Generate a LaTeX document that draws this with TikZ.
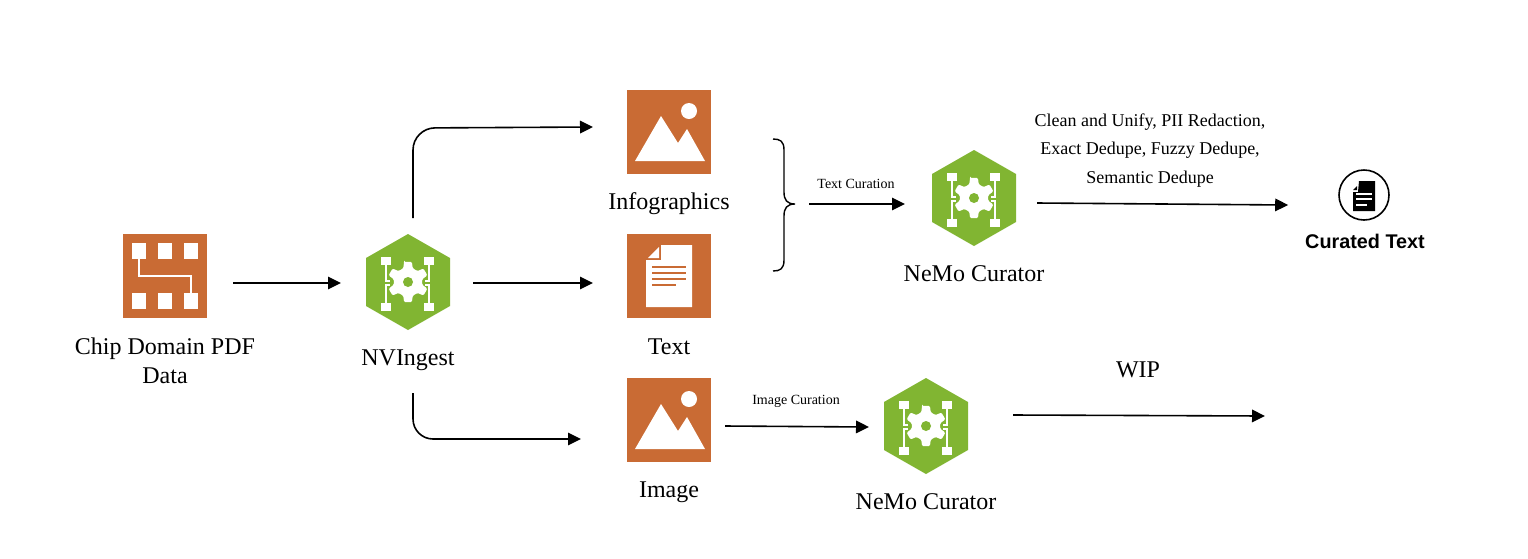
\documentclass[tikz,border=0pt]{standalone}
\usepackage{fontspec}
\setmainfont{Liberation Serif}
\newfontfamily\labelsans{Liberation Sans}
\usetikzlibrary{arrows.meta}
\definecolor{rust}{RGB}{201,107,52}
\definecolor{leaf}{RGB}{129,181,50}
\tikzset{
  flow/.style={draw=black,line width=1.6pt,-{Triangle[length=13pt,width=12.5pt]}},
  iconbox/.style={fill=rust,draw=none,minimum width=84pt,minimum height=84pt,inner sep=0pt,outer sep=0pt},
  hexbox/.style={draw=none,minimum width=84pt,minimum height=96pt,inner sep=0pt,outer sep=0pt},
  lab/.style={font=\fontsize{24}{26}\selectfont,anchor=base,inner sep=0pt},
  midlab/.style={font=\fontsize{18}{20}\selectfont,anchor=base,inner sep=0pt},
  smalllab/.style={font=\fontsize{14}{16}\selectfont,anchor=base,inner sep=0pt},
}
% hexagon icon: name, x, y (centre)
\newcommand{\hexicon}[3]{%
  \node[hexbox] (#1) at (#2,#3) {};
  \begin{scope}[shift={(#2,#3)}]
    \fill[leaf] (0,-48) -- (42,-24) -- (42,24) -- (0,48) -- (-42,24) -- (-42,-24) -- cycle;
    \fill[white,rounded corners=1.2pt] (-101:20.5)
      \foreach \a in {-90,-30,30,90,150,210}{
        -- (\a-11:20.5) -- (\a+11:20.5) -- (\a+19:14.5) -- (\a+41:14.5)
      } -- cycle;
    \fill[leaf] (0,0) circle (5);
    \fill[white] (-27,-25) rectangle (-17,-17.5);
    \fill[white] (16,-25) rectangle (26,-17.5);
    \fill[white] (-27,21) rectangle (-17,29);
    \fill[white] (16,21) rectangle (26,29);
    \draw[white,line width=1.2pt] (-22,-18) -- (-22,-1) -- (-18,-1);
    \draw[white,line width=1.2pt] (-22,22) -- (-22,3) -- (-18,3);
    \draw[white,line width=1.2pt] (21,-18) -- (21,-1) -- (17,-1);
    \draw[white,line width=1.2pt] (21,22) -- (21,3) -- (17,3);
  \end{scope}}
% picture icon: name, x, y (centre)
\newcommand{\picicon}[3]{%
  \node[iconbox] (#1) at (#2,#3) {};
  \begin{scope}[shift={(#2,#3)}]
    \fill[white] (-34,29) -- (-8,-16) -- (9,11) -- (18,-3) -- (36,29) -- cycle;
    \fill[white] (20,-21) circle (8);
  \end{scope}}
\begin{document}
\begin{tikzpicture}[x=1pt,y=-1pt]
\useasboundingbox (0,0) rectangle (1528,558);
\fill[white] (0,0) rectangle (1528,558);

% chip icon
\node[iconbox] (chip) at (165,276) {};
\foreach \x in {132,158,184}{
  \fill[white] (\x,243) rectangle ++(14,16);
  \fill[white] (\x,293) rectangle ++(14,16);
}
\draw[white,line width=2pt] (139,259) -- (139,276) -- (191,276) -- (191,293);
\node[lab] (chiplab) at (165,354) {Chip Domain PDF};
\node[lab] (chiplabb) at (165,383) {Data};

% hexagons
\hexicon{nvingest}{408}{282}
\node[lab] (nvlab) at (408,365) {NVIngest};
\hexicon{curatorA}{974}{198}
\node[lab] (calab) at (974,281.5) {NeMo Curator};
\hexicon{curatorB}{926}{426}
\node[lab] (cblab) at (926,509.5) {NeMo Curator};

% infographics and image
\picicon{info}{669}{132}
\node[lab] (infolab) at (669,209) {Infographics};
\picicon{image}{669}{420}
\node[lab] (imagelab) at (669,497) {Image};

% text icon
\node[iconbox] (text) at (669,276) {};
\fill[white] (660,245) -- (692,245) -- (692,307) -- (646,307) -- (646,259) -- cycle;
\draw[rust,line width=1.6pt] (660,245) -- (660,259) -- (646,259) -- cycle;
\fill[white] (648,258) -- (659,258) -- (659,247) -- cycle;
\foreach \y/\e in {265.5/686,271.5/686,277.5/686,283.5/676}{
  \fill[rust] (652,\y) rectangle (\e,\y+2.4);
}
\node[lab] (textlab) at (669,354) {Text};

% curated text icon
\node[draw=black,line width=1.6pt,circle,minimum size=50pt,inner sep=0pt] (curated) at (1364,195) {};
\fill[black] (1359,181) -- (1375,181) -- (1375,211) -- (1353,211) -- (1353,192) -- (1358,192) -- cycle;
\fill[black] (1353,190) -- (1357,190) -- (1357,186) -- cycle;
\foreach \y/\e in {193/1372,198/1372,204/1367}{
  \fill[white] (1356,\y) rectangle (\e,\y+2.4);
}
\node[anchor=base,inner sep=0pt,font=\labelsans\bfseries\fontsize{19.8}{22}\selectfont] (curlab) at (1365,248.5) {Curated Text};

% brace
\coordinate (braceTip) at (795,204);
\draw[black,line width=1.4pt] (773,139) .. controls (780,139) and (784,141) .. (784,150)
  -- (784,192) .. controls (784,200) and (787,204) .. (braceTip)
  .. controls (787,204) and (784,208) .. (784,216)
  -- (784,260) .. controls (784,269) and (780,271) .. (773,271);

% connectors
\draw[flow] ([xshift=26pt,yshift=-7pt]chip.east) -- ([xshift=-25pt,yshift=-1pt]nvingest.west);
\draw[flow,rounded corners=22pt] ([xshift=5pt,yshift=16pt]nvingest.north) -- (413,128) -- ([xshift=-34pt,yshift=5pt]info.west);
\draw[flow] ([xshift=23pt,yshift=-1pt]nvingest.east) -- ([xshift=-34pt,yshift=-7pt]text.west);
\draw[flow,rounded corners=20pt] ([xshift=5pt,yshift=-63pt]nvingest.south) -- (413,439) -- ([xshift=-46pt,yshift=-19pt]image.west);
\draw[flow] ([xshift=14pt]braceTip) -- ([xshift=-27pt,yshift=-6pt]curatorA.west);
\draw[flow] ([xshift=21pt,yshift=-5pt]curatorA.east) -- ([xshift=-50pt,yshift=-10pt]curated.west);
\draw[flow] ([xshift=14pt,yshift=-6pt]image.east) -- ([xshift=-15pt,yshift=-1pt]curatorB.west);
\coordinate (wipEnd) at (1265,416);
\draw[flow] ([xshift=45pt,yshift=11pt]curatorB.east) -- (wipEnd);

% labels
\node[smalllab] (tclab) at (856,188.5) {Text Curation};
\node[smalllab] (iclab) at (796,404.5) {Image Curation};
\node[midlab] (stepsa) at (1150,126) {Clean and Unify, PII Redaction,};
\node[midlab] (stepsb) at (1150,154.5) {Exact Dedupe, Fuzzy Dedupe,};
\node[midlab] (stepsc) at (1150,183) {Semantic Dedupe};
\node[lab] (wip) at (1138,377) {WIP};
\end{tikzpicture}
\end{document}
